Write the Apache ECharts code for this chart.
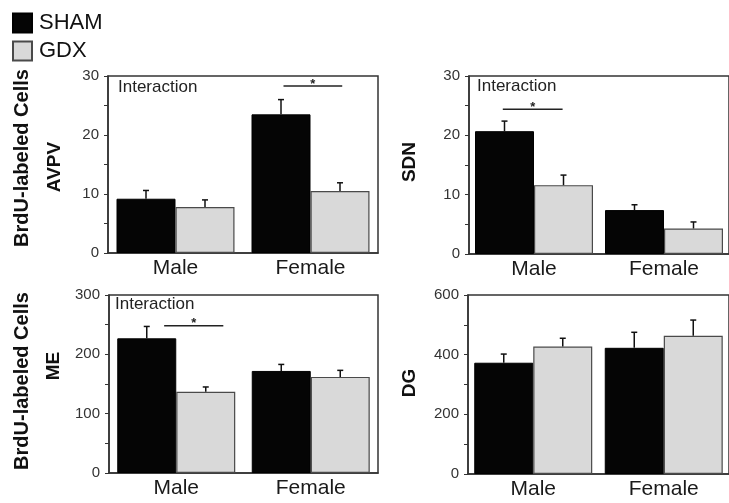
<!DOCTYPE html>
<html>
<head>
<meta charset="utf-8">
<script src="https://cdn.jsdelivr.net/npm/echarts@6/dist/echarts.min.js"></script>
<style>
  html, body { margin: 0; padding: 0; background: #fff; }
  #chart { width: 729px; height: 503px; }
</style>
</head>
<body>
<div id="chart"></div>
<script>
const categories = ['Male', 'Female']

// BrdU-labeled cells, mean and upper SEM per region
const avpvSham = [9.2, 23.5]
const avpvShamErr = [1.4, 2.5]
const avpvGdx = [7.8, 10.5]
const avpvGdxErr = [1.2, 1.4]

const sdnSham = [20.7, 7.4]
const sdnShamErr = [1.7, 0.9]
const sdnGdx = [11.6, 4.3]
const sdnGdxErr = [1.7, 1.1]

const meSham = [227, 172]
const meShamErr = [20, 11]
const meGdx = [137, 162]
const meGdxErr = [8, 11]

const dgSham = [373, 423]
const dgShamErr = [29, 52]
const dgGdx = [427, 463]
const dgGdxErr = [28, 53]

const axisMax = [30, 30, 300, 600]
const axisStep = [10, 10, 100, 200]
const regionNames = ['AVPV', 'SDN', 'ME', 'DG']

// significance bars: [category index, y value, start offset, end offset] (offsets in band widths)
const sigAvpv = [[1, 28.3, -0.2, 0.235]]
const sigSdn = [[0, 24.4, -0.24, 0.22]]
const sigMe = [[0, 248, -0.09, 0.35]]

const chart = echarts.init(document.getElementById('chart'))

const grids = [
  { left: 108, top: 76, width: 270, height: 177 },
  { left: 469, top: 76, width: 266, height: 178 },
  { left: 109, top: 295, width: 269, height: 178 },
  { left: 468, top: 295, width: 266, height: 179 }
]
const BAR_W = 59

const panels = [
  { sham: avpvSham, shamErr: avpvShamErr, gdx: avpvGdx, gdxErr: avpvGdxErr, sig: sigAvpv },
  { sham: sdnSham, shamErr: sdnShamErr, gdx: sdnGdx, gdxErr: sdnGdxErr, sig: sigSdn },
  { sham: meSham, shamErr: meShamErr, gdx: meGdx, gdxErr: meGdxErr, sig: sigMe },
  { sham: dgSham, shamErr: dgShamErr, gdx: dgGdx, gdxErr: dgGdxErr, sig: [] }
]

function errorSeries(idx, means, errs, side) {
  return {
    type: 'custom',
    name: 'err' + idx + side,
    xAxisIndex: idx,
    yAxisIndex: idx,
    z: 5,
    silent: true,
    renderItem: (params, api) => {
      const base = api.coord([api.value(0), api.value(1)])
      const top = api.coord([api.value(0), api.value(1) + api.value(2)])
      const x = base[0] + side * BAR_W / 2
      const st = { stroke: '#111', lineWidth: 1.5 }
      return {
        type: 'group',
        children: [
          { type: 'line', shape: { x1: x, y1: base[1], x2: x, y2: top[1] }, style: st },
          { type: 'line', shape: { x1: x - 3, y1: top[1], x2: x + 3, y2: top[1] }, style: st }
        ]
      }
    },
    data: means.map((m, i) => [i, m, errs[i]])
  }
}

function sigSeries(idx, items) {
  return {
    type: 'custom',
    name: 'sig' + idx,
    xAxisIndex: idx,
    yAxisIndex: idx,
    z: 6,
    silent: true,
    renderItem: (params, api) => {
      const c = api.coord([api.value(0), api.value(1)])
      const band = api.size([1, 0])[0]
      const x1 = c[0] + api.value(2) * band
      const x2 = c[0] + api.value(3) * band
      return {
        type: 'group',
        children: [
          { type: 'line', shape: { x1: x1, y1: c[1], x2: x2, y2: c[1] }, style: { stroke: '#222', lineWidth: 1.5 } },
          { type: 'text', x: (x1 + x2) / 2, y: c[1] - 2, style: { text: '*', fill: '#222', font: 'bold 13px "Liberation Sans", Arial', align: 'center', verticalAlign: 'middle' } }
        ]
      }
    },
    data: items
  }
}

const series = []
panels.forEach((p, i) => {
  series.push({
    name: 'SHAM', type: 'bar', xAxisIndex: i, yAxisIndex: i,
    barWidth: BAR_W, barGap: '0%',
    itemStyle: { color: '#050505', borderColor: '#000', borderWidth: 1 },
    data: p.sham
  })
  series.push({
    name: 'GDX', type: 'bar', xAxisIndex: i, yAxisIndex: i,
    barWidth: BAR_W, barGap: '0%',
    itemStyle: { color: '#d9d9d9', borderColor: '#4a4a4a', borderWidth: 1.2 },
    data: p.gdx
  })
  series.push(errorSeries(i, p.sham, p.shamErr, -1))
  series.push(errorSeries(i, p.gdx, p.gdxErr, 1))
  if (p.sig.length) series.push(sigSeries(i, p.sig))
})

const FONT = '"Liberation Sans", Arial, sans-serif'
const LABEL_FONT = 'bold 20px ' + FONT
const REGION_FONT = 'bold 19px ' + FONT

const option = {
  backgroundColor: '#fff',
  animation: false,
  textStyle: { fontFamily: FONT },
  legend: {
    data: ['SHAM', 'GDX'],
    orient: 'vertical',
    left: 7,
    top: 7,
    itemWidth: 19,
    itemHeight: 19,
    itemGap: 6,
    icon: 'rect',
    textStyle: { fontSize: 22, color: '#111', fontFamily: FONT, padding: [0, 0, 0, 2] },
    selectedMode: false
  },
  grid: grids.map((g) => ({ ...g, show: true, borderColor: '#333', borderWidth: 1.5, backgroundColor: 'transparent' })),
  xAxis: grids.map((g, i) => ({
    type: 'category',
    gridIndex: i,
    data: categories,
    axisLine: { show: true, lineStyle: { color: '#333', width: 1.5 } },
    axisTick: { show: false },
    axisLabel: { fontSize: 21, color: '#1a1a1a', margin: 5, fontFamily: FONT }
  })),
  yAxis: grids.map((g, i) => ({
    type: 'value',
    gridIndex: i,
    min: 0,
    max: axisMax[i],
    interval: axisStep[i],
    splitLine: { show: false },
    axisLine: { show: true, lineStyle: { color: '#333', width: 1.5 } },
    axisTick: { show: true, length: 4, lineStyle: { color: '#333' } },
    minorTick: { show: true, splitNumber: 2, length: 4, lineStyle: { color: '#333' } },
    axisLabel: { fontSize: 15, color: '#333', margin: 9, fontFamily: FONT }
  })),
  graphic: [
    { type: 'text', x: 22, y: 158, rotation: Math.PI / 2, style: { text: 'BrdU-labeled Cells', font: LABEL_FONT, fill: '#111', align: 'center', verticalAlign: 'middle' } },
    { type: 'text', x: 55, y: 167, rotation: Math.PI / 2, style: { text: regionNames[0], font: REGION_FONT, fill: '#111', align: 'center', verticalAlign: 'middle' } },
    { type: 'text', x: 410, y: 162, rotation: Math.PI / 2, style: { text: regionNames[1], font: REGION_FONT, fill: '#111', align: 'center', verticalAlign: 'middle' } },
    { type: 'text', x: 22, y: 381, rotation: Math.PI / 2, style: { text: 'BrdU-labeled Cells', font: LABEL_FONT, fill: '#111', align: 'center', verticalAlign: 'middle' } },
    { type: 'text', x: 54, y: 366, rotation: Math.PI / 2, style: { text: regionNames[2], font: REGION_FONT, fill: '#111', align: 'center', verticalAlign: 'middle' } },
    { type: 'text', x: 410, y: 383, rotation: Math.PI / 2, style: { text: regionNames[3], font: REGION_FONT, fill: '#111', align: 'center', verticalAlign: 'middle' } },
    { type: 'text', x: 118, y: 79, style: { text: 'Interaction', font: '17px ' + FONT, fill: '#222' } },
    { type: 'text', x: 477, y: 78, style: { text: 'Interaction', font: '17px ' + FONT, fill: '#222' } },
    { type: 'text', x: 115, y: 296, style: { text: 'Interaction', font: '17px ' + FONT, fill: '#222' } }
  ],
  series: series
}

chart.setOption(option)
</script>
</body>
</html>
